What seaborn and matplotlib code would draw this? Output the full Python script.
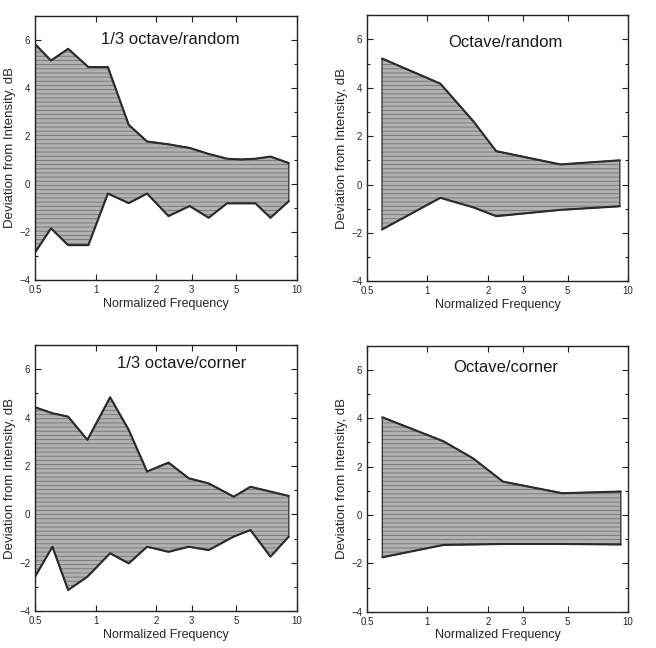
import numpy as np
import pandas as pd
import seaborn as sns
import matplotlib.pyplot as plt
from matplotlib.ticker import FixedLocator, NullLocator, MultipleLocator, FixedFormatter

# 1/3 octave / random
f_third_rand = [0.5, 0.6, 0.73, 0.92, 1.15, 1.46, 1.8, 2.3, 2.93, 3.64, 4.49, 5.27, 6.22, 7.38, 9.1]
up_third_rand = [5.83, 5.14, 5.63, 4.87, 4.87, 2.46, 1.77, 1.65, 1.5, 1.25, 1.05, 1.02, 1.05, 1.14, 0.87]
lo_third_rand = [-2.86, -1.85, -2.55, -2.55, -0.4, -0.8, -0.4, -1.34, -0.92, -1.41, -0.81, -0.81, -0.81, -1.41, -0.72]

# octave / random
f_oct_rand = [0.594, 1.16, 1.7, 2.2, 4.6, 9.1]
up_oct_rand = [5.21, 4.17, 2.6, 1.38, 0.83, 1.0]
lo_oct_rand = [-1.86, -0.55, -0.95, -1.31, -1.05, -0.9]

# 1/3 octave / corner
f_third_corner = [0.5, 0.61, 0.73, 0.91, 1.18, 1.46, 1.8, 2.3, 2.9, 3.64, 4.85, 5.87, 7.38, 9.1]
up_third_corner = [4.43, 4.18, 4.04, 3.08, 4.84, 3.49, 1.77, 2.14, 1.49, 1.28, 0.73, 1.14, 0.94, 0.76]
lo_third_corner = [-2.58, -1.34, -3.13, -2.58, -1.61, -2.03, -1.34, -1.55, -1.34, -1.48, -0.92, -0.65, -1.75, -0.92]

# octave / corner
f_oct_corner = [0.596, 1.2, 1.69, 2.38, 4.7, 9.2]
up_oct_corner = [4.04, 3.05, 2.34, 1.38, 0.9, 0.97]
lo_oct_corner = [-1.75, -1.24, -1.22, -1.2, -1.2, -1.22]

titles = ['1/3 octave/random', 'Octave/random', '1/3 octave/corner', 'Octave/corner']
title_pos = [(0.515, 0.91), (0.53, 0.897), (0.56, 0.93), (0.53, 0.917)]
xticks = [0.5, 1, 2, 3, 5, 10]
xticklabels = ['0.5', '1', '2', '3', '5', '10']

sns.set_style('ticks')
plt.rcParams['font.family'] = ['Liberation Sans', 'DejaVu Sans']
plt.rcParams['hatch.linewidth'] = 0.7

fig = plt.figure(figsize=(6.56, 6.48), dpi=100)
boxes = [[0.0534, 0.568, 0.3994, 0.4074],
         [0.5595, 0.566, 0.3979, 0.4105],
         [0.0534, 0.057, 0.3994, 0.4105],
         [0.5595, 0.056, 0.3979, 0.4105]]

panels = [(f_third_rand, up_third_rand, lo_third_rand),
          (f_oct_rand, up_oct_rand, lo_oct_rand),
          (f_third_corner, up_third_corner, lo_third_corner),
          (f_oct_corner, up_oct_corner, lo_oct_corner)]

for i, (f, up, lo) in enumerate(panels):
    ax = fig.add_axes(boxes[i])
    df = pd.DataFrame({'freq': f, 'upper': up, 'lower': lo})
    # shaded band, streaky like the scanned halftone
    ax.fill_between(df.freq, df.lower, df.upper, facecolor='#b2b2b2',
                    edgecolor='#7a7a7a', hatch='----', linewidth=0)
    ax.fill_between(df.freq, df.lower, df.upper, facecolor='none',
                    edgecolor='#3a3a3a', linewidth=1.0)
    sns.lineplot(data=df, x='freq', y='upper', ax=ax, color='#2b2b2b', lw=1.5)
    sns.lineplot(data=df, x='freq', y='lower', ax=ax, color='#2b2b2b', lw=1.5)

    ax.set_xscale('log')
    ax.set_xlim(0.5, 10)
    ax.set_ylim(-4, 7)
    ax.xaxis.set_major_locator(FixedLocator(xticks))
    ax.xaxis.set_major_formatter(FixedFormatter(xticklabels))
    ax.xaxis.set_minor_locator(NullLocator())
    ax.yaxis.set_major_locator(FixedLocator([-4, -2, 0, 2, 4, 6]))
    ax.yaxis.set_minor_locator(MultipleLocator(1))
    ax.tick_params(which='both', direction='in', top=True, right=True,
                   labelsize=7, width=0.8, color='#222222')
    ax.tick_params(which='major', length=4)
    ax.tick_params(which='minor', length=2.5)
    for s in ax.spines.values():
        s.set_linewidth(1.0)
        s.set_color('#222222')
    ax.set_xlabel('Normalized Frequency', fontsize=9, labelpad=2)
    ax.set_ylabel('Deviation from Intensity, dB', fontsize=9.5, labelpad=2)
    ax.text(title_pos[i][0], title_pos[i][1], titles[i], transform=ax.transAxes,
            ha='center', va='center', fontsize=12, color='#1a1a1a')

fig.savefig('out.png', dpi=100)
